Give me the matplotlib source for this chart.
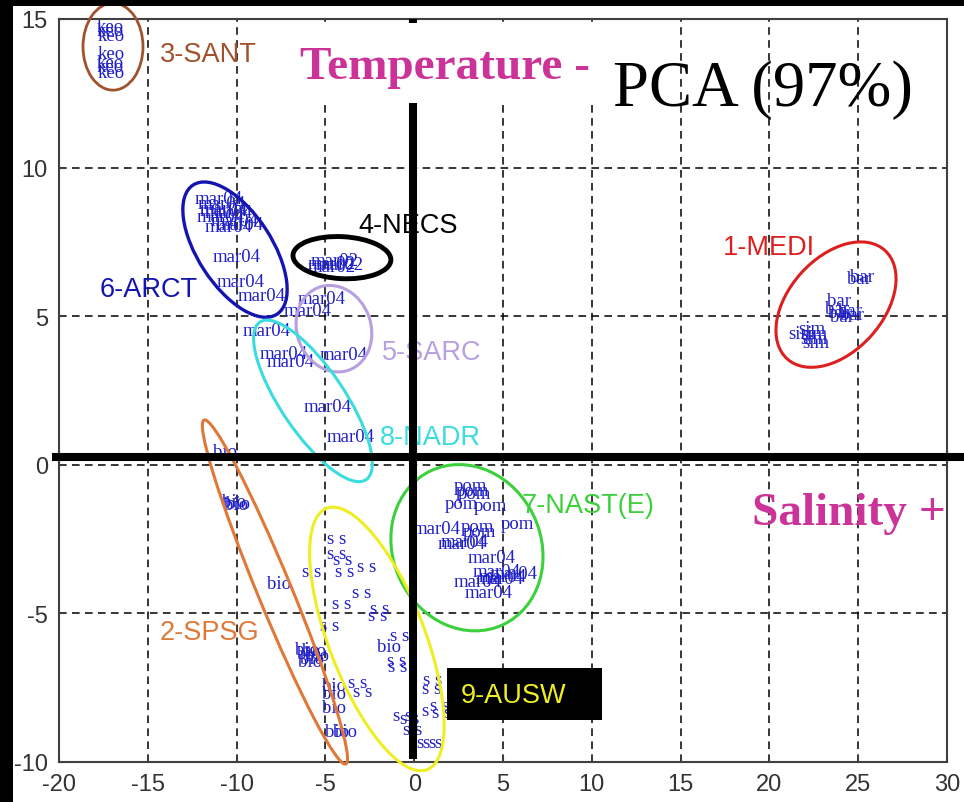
import matplotlib.pyplot as plt
from matplotlib import transforms
from matplotlib.patches import Ellipse, Rectangle

plt.rcParams["axes.unicode_minus"] = False

# PCA scores, one list pair per station code
keo_x = [-17.9, -17.9, -17.85, -17.8, -17.9, -17.9, -17.85]
keo_y = [14.75, 14.6, 14.45, 13.85, 13.55, 13.4, 13.2]

mar04_x = [-12.34, -12.17, -12.06, -11.78, -12.23, -11.49, -11.21, -11.78, -12.06,
           -11.33, -11.10, -9.92, -6.54, -7.38, -5.30, -9.64, -8.68, -8.29, -6.20, -4.91,
           -0.08, 1.34, 1.46, 2.98, 3.26, 3.60, 3.43, 4.27, 2.24, 2.86]
mar04_y = [8.96, 8.79, 8.62, 8.48, 8.35, 8.22, 8.08, 8.02, 8.55,
           7.0, 6.16, 5.69, 5.59, 5.19, 3.70, 4.51, 3.74, 3.47, 1.95, 0.94,
           -2.16, -2.66, -2.59, -3.13, -3.60, -3.77, -3.84, -3.67, -3.94, -4.28]

mar02_x = [-6.03, -5.86, -5.58, -5.98]
mar02_y = [6.77, 6.87, 6.73, 6.67]

bar_x = [24.37, 24.54, 23.25, 23.13, 23.30, 23.41, 23.87, 23.98]
bar_y = [6.26, 6.33, 5.52, 5.25, 5.12, 4.98, 5.19, 5.05]

sim_x = [21.05, 21.62, 21.73, 21.73, 21.84]
sim_y = [4.41, 4.58, 4.41, 4.24, 4.11]

pom_x = [2.24, 2.36, 2.47, 1.74, 3.37, 4.89, 2.64, 2.75]
pom_y = [-0.71, -0.88, -0.98, -1.31, -1.38, -1.99, -2.09, -2.26]

bio_x = [-11.33, -10.82, -10.71, -10.59, -8.28, -6.71, -6.60, -6.43, -6.31, -6.15,
         -6.54, -5.19, -5.19, -5.19, -5.02, -4.57, -2.09]
bio_y = [0.44, -1.25, -1.35, -1.31, -4.01, -6.20, -6.36, -6.53, -6.26, -6.43,
         -6.63, -7.44, -7.71, -8.15, -8.99, -8.99, -6.13]

ss_x = [-4.91, -4.91, -4.57, -4.46, -6.31, -3.22, -3.50, -4.63, -2.49, -2.60, -5.30,
        -1.36, -1.53, -1.47, -3.72, -3.44, 0.50, 0.44, -1.19, -0.80, -0.23, 0.89, 1.01,
        -0.63, 0.16, 0.50]
ss_y = [-2.49, -2.99, -3.17, -3.60, -3.60, -3.43, -4.28, -4.68, -4.85, -5.08, -5.42,
        -5.76, -6.60, -6.77, -7.31, -7.64, -7.21, -7.54, -8.45, -8.55, -8.28, -8.11, -8.32,
        -8.89, -9.33, -9.33]

# province ellipses: centre (data), axes in pixels, angle in degrees
prov_names = ["1-MEDI", "2-SPSG", "3-SANT", "4-NECS", "5-SARC", "6-ARCT", "7-NAST(E)", "8-NADR", "9-AUSW"]
prov_colors = ["#dc2020", "#e0783a", "#a0522d", "#000000", "#b8a0e0", "#1414b0", "#3cd03c", "#3adce0", "#eeee22"]
ell_cx = [23.75, -7.84, -16.96, -4.07, -4.52, -10.09, 2.97, -5.7, -2.1]
ell_cy = [5.39, -4.28, 14.07, 6.97, 4.58, 7.24, -2.79, 2.15, -5.86]
ell_major = [146, 372, 87, 98, 88, 154, 170, 190, 280]
ell_minor = [94, 34, 60, 42, 74, 74, 148, 64, 96]
ell_angle = [48, -67.6, 90, -3, -70, -57, -65, -56, -69]
ell_lw = [2.2, 2.2, 2.0, 3.5, 2.2, 2.4, 2.2, 2.2, 2.2]

# label positions (left, baseline)
lab_x = [17.39, -14.31, -14.31, -3.17, -1.81, -17.69, 6.07, -1.92, 2.64]
lab_y = [7.10, -5.86, 13.57, 7.84, 3.57, 5.69, -1.58, 0.71, -7.98]

W, H, DPI = 964, 803, 100
fig = plt.figure(figsize=(W / DPI, H / DPI), dpi=DPI)
fig.patch.set_facecolor("white")
ax = fig.add_axes([59 / W, 40 / H, 888 / W, 743 / H])

ax.set_xlim(-20, 30)
ax.set_ylim(-10, 15)
ax.set_xticks(range(-20, 31, 5))
ax.set_yticks(range(-10, 16, 5))
ax.grid(True, color="black", linestyle=(0, (5, 3.5)), linewidth=1.1)
ax.set_axisbelow(True)
for s in ax.spines.values():
    s.set_color("#404040")
    s.set_linewidth(1.5)
ax.tick_params(direction="in", length=4, color="#404040", labelsize=17,
               labelcolor="#333333", pad=8)
for lbl in ax.get_xticklabels() + ax.get_yticklabels():
    lbl.set_fontfamily("Liberation Sans")

pt_style = dict(color="#2020c8", fontsize=13.5, family="Liberation Serif",
                ha="left", va="center", zorder=2)
for xs, ys, name in [(keo_x, keo_y, "keo"), (mar04_x, mar04_y, "mar04"),
                     (mar02_x, mar02_y, "mar02"), (bar_x, bar_y, "bar"),
                     (sim_x, sim_y, "sim"), (pom_x, pom_y, "pom"),
                     (bio_x, bio_y, "bio"), (ss_x, ss_y, "s s")]:
    for x, y in zip(xs, ys):
        ax.text(x, y, name, **pt_style)

for i, name in enumerate(prov_names):
    tr = fig.dpi_scale_trans + transforms.ScaledTranslation(ell_cx[i], ell_cy[i], ax.transData)
    e = Ellipse((0, 0), ell_major[i] / DPI, ell_minor[i] / DPI, angle=ell_angle[i],
                transform=tr, fill=False, edgecolor=prov_colors[i],
                linewidth=ell_lw[i], zorder=3, clip_on=False)
    ax.add_patch(e)
    if name == "9-AUSW":
        ax.add_patch(Rectangle((1.85, -8.59), 8.73, 1.76, facecolor="black",
                               edgecolor="none", zorder=4))
    ax.text(lab_x[i], lab_y[i], name, color=prov_colors[i], fontsize=19.5,
            family="Liberation Sans", ha="left", va="baseline", zorder=5)

# thick cross through the origin
ax.plot([-20.4, 31.0], [0.25, 0.25], color="black", linewidth=5.8,
        solid_capstyle="butt", clip_on=False, zorder=6)
ax.plot([-0.06, -0.06], [-9.9, 15.0], color="black", linewidth=5.8,
        solid_capstyle="butt", clip_on=False, zorder=6)

# white patch behind the title
ax.add_patch(Rectangle((-6.7, 12.19), 17.3, 2.69, facecolor="white",
                       edgecolor="none", zorder=7))
ax.text(-6.43, 13.0, "Temperature -", color="#cc3399", fontsize=34,
        family="Liberation Serif", fontweight="bold", va="baseline", zorder=8)
ax.text(11.2, 12.09, "PCA (97%)", color="black", fontsize=46.5,
        family="Liberation Serif", va="baseline", zorder=8)
ax.text(19.03, -1.99, "Salinity +", color="#cc3399", fontsize=34,
        family="Liberation Serif", fontweight="bold", va="baseline", zorder=8)

# black slide border
fig.patches.append(Rectangle((0, 0), 13 / W, 1, transform=fig.transFigure,
                             facecolor="black", edgecolor="none", zorder=10))
fig.patches.append(Rectangle((0, 1 - 7 / H), 1, 7 / H, transform=fig.transFigure,
                             facecolor="black", edgecolor="none", zorder=10))

fig.savefig("out.png", dpi=DPI)
